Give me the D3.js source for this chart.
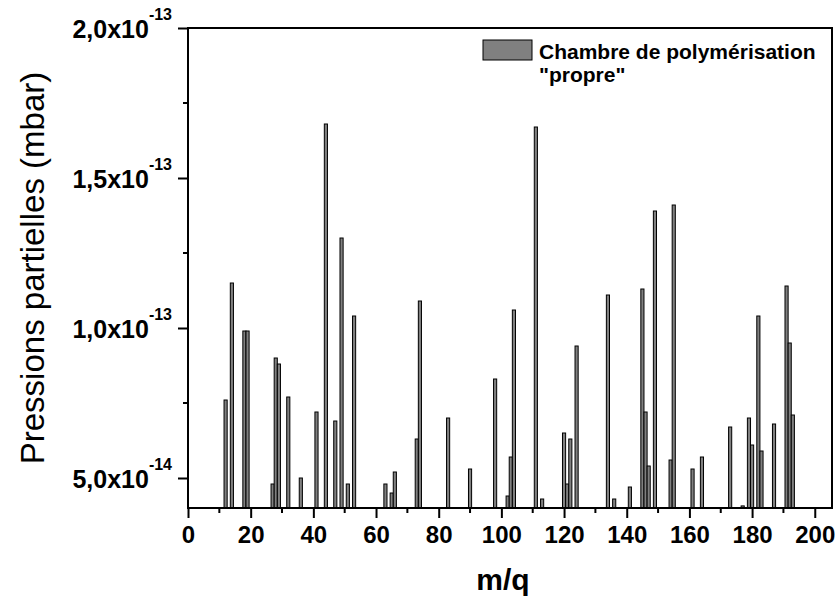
<!DOCTYPE html>
<html>
<head>
<meta charset="utf-8">
<script src="https://cdn.jsdelivr.net/npm/d3@7"></script>
<style>
  body { margin: 0; background: #fff; }
  text { font-family: Arial, "Liberation Sans", sans-serif; }
</style>
</head>
<body>
<svg id="svg"></svg>
<script>
let svg; // main <svg>
let width = 838, height = 603;
let margin = { top: 28, right: 6, bottom: 95, left: 188 };

// m/q positions of the bars
let mz = [12, 14, 18, 19, 27, 28, 29, 32, 36, 41, 44, 47, 49, 51, 53, 63, 65, 66,
          73, 74, 83, 90, 98, 102, 103, 104, 111, 113, 120, 121, 122, 124, 134, 136,
          141, 145, 146, 147, 149, 154, 155, 161, 164, 173, 177, 179, 180, 182, 183,
          187, 191, 192, 193];
// partial pressures (mbar)
let pressure = [7.6e-14, 11.5e-14, 9.9e-14, 9.9e-14, 4.8e-14, 9.0e-14, 8.8e-14, 7.7e-14, 5.0e-14,
                7.2e-14, 16.8e-14, 6.9e-14, 13.0e-14, 4.8e-14, 10.4e-14, 4.8e-14, 4.5e-14, 5.2e-14,
                6.3e-14, 10.9e-14, 7.0e-14, 5.3e-14, 8.3e-14, 4.4e-14, 5.7e-14, 10.6e-14, 16.7e-14,
                4.3e-14, 6.5e-14, 4.8e-14, 6.3e-14, 9.4e-14, 11.1e-14, 4.3e-14, 4.7e-14, 11.3e-14,
                7.2e-14, 5.4e-14, 13.9e-14, 5.6e-14, 14.1e-14, 5.3e-14, 5.7e-14, 6.7e-14, 4.07e-14,
                7.0e-14, 6.1e-14, 10.4e-14, 5.9e-14, 6.8e-14, 11.4e-14, 9.5e-14, 7.1e-14];

let xTicks = [0, 20, 40, 60, 80, 100, 120, 140, 160, 180, 200];
let xMinor = [10, 30, 50, 70, 90, 110, 130, 150, 170, 190];
let yTicks = [5.0e-14, 1.0e-13, 1.5e-13, 2.0e-13];
let yMinor = [7.5e-14, 1.25e-13, 1.75e-13];
let yTickText = [["5,0x10", "-14"], ["1,0x10", "-13"], ["1,5x10", "-13"], ["2,0x10", "-13"]];
let legendText = ["Chambre de polymérisation", "\"propre\""];

let data = mz.map((m, i) => ({ mz: m, p: pressure[i] }));

svg = d3.select("#svg").attr("width", width).attr("height", height);

let xScale = d3.scaleLinear().domain([0, 205.5]).range([margin.left, width - margin.right]);
let yScale = d3.scaleLinear().domain([4.0e-14, 2.0e-13]).range([height - margin.bottom, margin.top]);
let x0 = xScale.range()[0], x1 = xScale.range()[1];
let y0 = yScale.range()[0], y1 = yScale.range()[1];
let barW = xScale(1) - xScale(0);

// bars
svg.append("g").selectAll("rect")
    .data(data)
    .join("rect")
    .attr("x", d => xScale(d.mz) - barW / 2)
    .attr("y", d => yScale(d.p))
    .attr("width", barW)
    .attr("height", d => y0 - yScale(d.p))
    .attr("fill", "#808080")
    .attr("stroke", "#000")
    .attr("stroke-width", 1);

// frame
svg.append("rect")
    .attr("x", x0).attr("y", y1)
    .attr("width", x1 - x0).attr("height", y0 - y1)
    .attr("fill", "none").attr("stroke", "#000").attr("stroke-width", 2);

// x axis
let xAxis = svg.append("g").attr("transform", `translate(0, ${y0})`)
    .call(d3.axisBottom(xScale).tickValues(xTicks).tickSize(10).tickPadding(8).tickFormat(d3.format("d")));
xAxis.select(".domain").remove();
xAxis.selectAll("line").attr("stroke-width", 2);
xAxis.selectAll("text").attr("font-size", 24).attr("font-weight", "bold").attr("fill", "#000")
    .attr("font-family", "Arial, 'Liberation Sans', sans-serif");
svg.append("g").attr("transform", `translate(0, ${y0})`)
    .selectAll("line").data(xMinor).join("line")
    .attr("x1", d => xScale(d)).attr("x2", d => xScale(d))
    .attr("y1", 0).attr("y2", 5)
    .attr("stroke", "#000").attr("stroke-width", 2);

// y axis
let yAxis = svg.append("g").attr("transform", `translate(${x0}, 0)`)
    .call(d3.axisLeft(yScale).tickValues(yTicks).tickSize(10).tickFormat(""));
yAxis.select(".domain").remove();
yAxis.selectAll("line").attr("stroke-width", 2);
svg.append("g").attr("transform", `translate(${x0}, 0)`)
    .selectAll("line").data(yMinor).join("line")
    .attr("x1", 0).attr("x2", -5)
    .attr("y1", d => yScale(d)).attr("y2", d => yScale(d))
    .attr("stroke", "#000").attr("stroke-width", 2);

let yLab = svg.append("g").selectAll("text")
    .data(yTicks)
    .join("text")
    .attr("x", x0 - 16)
    .attr("y", d => yScale(d) + 10)
    .attr("text-anchor", "end")
    .attr("font-weight", "bold")
    .attr("font-size", 25);
yLab.append("tspan").text((d, i) => yTickText[i][0]);
yLab.append("tspan").attr("font-size", 16).attr("dy", -18).text((d, i) => yTickText[i][1]);

// axis titles
svg.append("text")
    .attr("transform", `translate(44, 268) rotate(-90)`)
    .attr("text-anchor", "middle")
    .attr("font-size", 33)
    .text("Pressions partielles (mbar)");

svg.append("text")
    .attr("x", 503).attr("y", 590)
    .attr("text-anchor", "middle")
    .attr("font-size", 30)
    .attr("font-weight", "bold")
    .text("m/q");

// legend
let legend = svg.append("g");
legend.append("rect")
    .attr("x", 483).attr("y", 40).attr("width", 49).attr("height", 20)
    .attr("fill", "#808080").attr("stroke", "#000").attr("stroke-width", 1);
legend.selectAll("text")
    .data(legendText)
    .join("text")
    .attr("x", 539)
    .attr("y", (d, i) => 59 + i * 23)
    .attr("font-weight", "bold")
    .attr("font-size", 21)
    .text(d => d);
</script>
</body>
</html>
